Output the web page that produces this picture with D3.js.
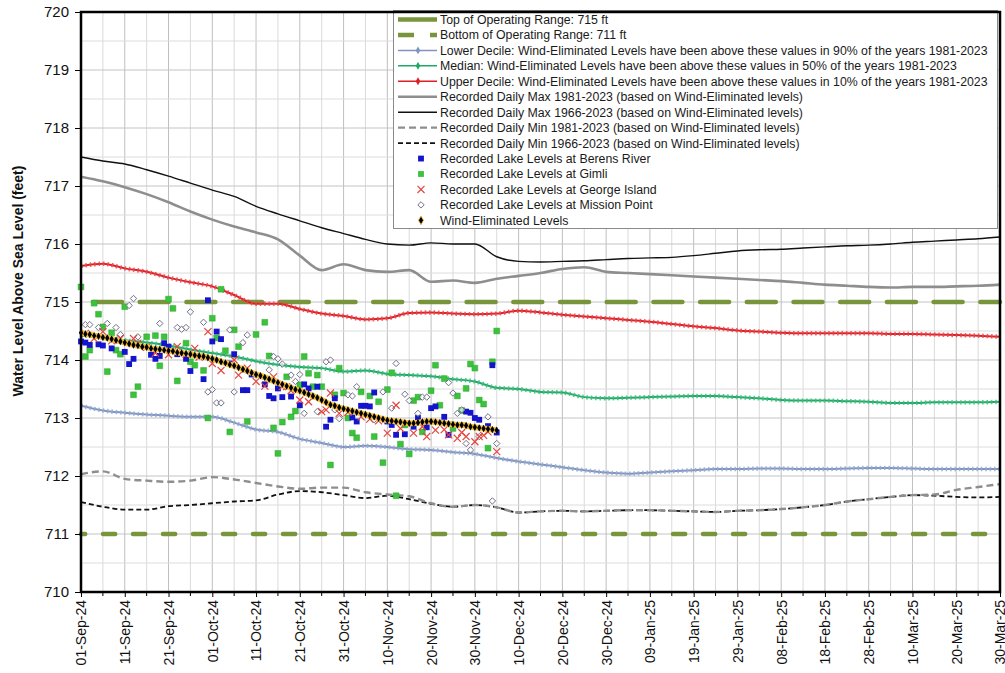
<!DOCTYPE html>
<html>
<head>
<meta charset="utf-8">
<script src="https://cdn.jsdelivr.net/npm/d3@7"></script>
<style>
  body { margin: 0; background: #fff; font-family: Arial, "Liberation Sans", sans-serif; }
</style>
</head>
<body>
<div id="chart"></div>
<script>
// days counted from 01-Sep-24
var statDays = d3.range(0, 211, 5);
var windDays = d3.range(0, 96);

var xTickLabels = ["01-Sep-24","11-Sep-24","21-Sep-24","01-Oct-24","11-Oct-24","21-Oct-24","31-Oct-24",
  "10-Nov-24","20-Nov-24","30-Nov-24","10-Dec-24","20-Dec-24","30-Dec-24","09-Jan-25","19-Jan-25",
  "29-Jan-25","08-Feb-25","18-Feb-25","28-Feb-25","10-Mar-25","20-Mar-25","30-Mar-25"];
var yTicks = [710, 711, 712, 713, 714, 715, 716, 717, 718, 719, 720];

var maxAll = [717.50,717.43,717.38,717.28,717.17,717.05,716.93,716.82,716.65,716.52,716.40,716.28,716.18,
  716.08,716.00,715.98,716.02,716.00,716.00,715.78,715.70,715.69,715.70,715.71,715.73,715.75,715.76,
  715.77,715.80,715.84,715.88,715.90,715.91,715.93,715.95,715.97,715.98,716.00,716.03,716.05,716.07,716.09,716.12];
var max81 = [717.16,717.08,716.98,716.86,716.72,716.56,716.42,716.30,716.20,716.08,715.80,715.55,715.65,
  715.55,715.52,715.55,715.35,715.37,715.33,715.40,715.45,715.50,715.57,715.60,715.52,715.50,715.48,
  715.46,715.44,715.42,715.40,715.38,715.36,715.33,715.30,715.28,715.26,715.25,715.26,715.26,715.27,715.28,715.30];
var upperDecile = [715.62,715.66,715.58,715.52,715.42,715.34,715.27,715.12,714.97,714.97,714.88,714.80,714.76,
  714.70,714.72,714.81,714.82,714.80,714.79,714.80,714.85,714.82,714.78,714.75,714.72,714.69,714.66,
  714.62,714.58,714.55,714.51,714.49,714.47,714.46,714.46,714.46,714.46,714.45,714.45,714.44,714.43,714.42,714.40];
var medianLvl = [714.42,714.40,714.34,714.30,714.25,714.18,714.12,714.06,713.98,713.92,713.88,713.86,713.80,
  713.82,713.76,713.74,713.72,713.67,713.63,713.52,713.50,713.45,713.44,713.36,713.34,713.35,713.36,
  713.37,713.38,713.38,713.36,713.34,713.31,713.30,713.30,713.29,713.28,713.26,713.26,713.27,713.27,713.27,713.28];
var lowerDecile = [713.21,713.13,713.09,713.06,713.04,713.02,713.02,712.92,712.80,712.76,712.64,712.57,712.50,
  712.52,712.50,712.46,712.45,712.41,712.38,712.31,712.25,712.20,712.15,712.10,712.06,712.04,712.06,
  712.08,712.10,712.12,712.12,712.13,712.13,712.12,712.12,712.13,712.14,712.14,712.13,712.12,712.12,712.12,712.12];
var min81 = [712.03,712.08,711.95,711.92,711.90,711.92,711.98,711.94,711.88,711.82,711.78,711.80,711.80,
  711.72,711.68,711.65,711.53,711.47,711.50,711.46,711.37,711.39,711.40,711.39,711.40,711.41,711.41,
  711.40,711.39,711.38,711.40,711.41,711.43,711.46,711.50,711.56,711.60,711.64,711.67,711.68,711.76,711.81,711.86];
var minAll = [711.55,711.47,711.42,711.42,711.48,711.50,711.53,711.56,711.58,711.68,711.74,711.72,711.67,
  711.62,711.66,711.60,711.52,711.47,711.50,711.46,711.37,711.39,711.40,711.39,711.40,711.41,711.41,
  711.40,711.39,711.38,711.40,711.41,711.43,711.46,711.50,711.56,711.60,711.64,711.67,711.66,711.64,711.63,711.64];

var windEliminated = [714.47,714.45,714.44,714.42,714.41,714.39,714.38,714.36,714.34,714.32,714.30,714.28,
  714.26,714.25,714.23,714.22,714.20,714.19,714.18,714.17,714.16,714.15,714.13,714.12,714.11,714.10,714.08,
  714.07,714.06,714.04,714.02,714.00,713.97,713.95,713.92,713.90,713.87,713.84,713.81,713.78,713.75,713.73,
  713.70,713.67,713.64,713.61,713.58,713.55,713.52,713.49,713.47,713.44,713.41,713.38,713.35,713.31,713.27,
  713.23,713.21,713.18,713.16,713.14,713.12,713.10,713.08,713.06,713.04,713.02,713.00,712.98,712.96,712.95,
  712.94,712.93,712.92,712.91,712.91,712.92,712.93,712.94,712.94,712.93,712.92,712.91,712.90,712.89,712.88,
  712.88,712.87,712.85,712.84,712.83,712.82,712.81,712.80,712.79];

// [day, level]
var berensRiver = [[0,714.32],[1,714.30],[2,714.26],[4,714.27],[5,714.25],[7,714.20],[10,714.14],[11,713.93],
  [12,714.02],[16,714.09],[17,714.02],[18,714.07],[19,714.29],[20,714.23],[22,714.10],[24,714.02],[25,713.81],
  [28,713.67],[29,715.03],[30,714.32],[31,714.49],[32,714.36],[34,713.94],[35,714.10],[37,713.48],[38,713.48],
  [39,713.75],[42,713.58],[43,713.38],[44,713.34],[45,713.51],[46,713.36],[48,713.37],[50,713.22],[51,713.58],
  [52,713.51],[54,713.54],[56,712.85],[57,712.97],[58,713.34],[62,713.01],[63,712.94],[64,713.21],[65,713.21],
  [66,713.20],[67,713.44],[70,712.94],[71,712.88],[72,712.71],[74,712.72],[76,712.85],[77,713.00],[79,712.84],
  [80,713.17],[81,713.20],[83,713.02],[84,712.71],[88,713.11],[89,713.09],[90,713.00],[91,712.97],[93,712.86],
  [94,713.91],[95,712.75]];
var gimli = [[0,715.26],[1,714.06],[2,714.17],[3,714.98],[4,714.79],[5,714.57],[6,713.80],[7,714.47],[8,714.17],
  [9,714.10],[10,714.92],[12,713.40],[13,713.54],[15,714.40],[17,714.42],[18,713.90],[19,714.40],[20,715.05],
  [21,714.89],[22,713.64],[24,714.29],[25,713.97],[26,713.91],[28,713.82],[29,713.00],[30,714.72],[31,714.38],
  [32,715.22],[33,714.16],[34,712.76],[35,714.52],[36,714.23],[38,712.94],[40,714.44],[42,714.65],[43,714.07],
  [44,712.83],[45,712.39],[46,712.93],[47,713.71],[48,713.02],[49,713.12],[50,713.57],[51,714.06],[52,713.77],
  [53,713.54],[54,713.74],[55,713.54],[57,712.19],[58,713.40],[59,713.86],[60,713.43],[61,713.00],[62,712.74],
  [63,712.66],[64,713.45],[66,713.38],[67,712.68],[68,713.28],[69,712.23],[70,713.49],[71,713.78],[72,711.66],
  [73,712.55],[74,712.88],[75,712.38],[76,713.30],[77,713.36],[78,712.76],[80,713.47],[81,713.91],[82,713.22],
  [83,713.68],[85,712.82],[86,713.38],[87,713.13],[88,713.51],[89,713.93],[90,713.86],[91,713.31],[92,713.24],
  [93,712.48],[94,713.97],[95,714.50]];
var georgeIsland = [[1,714.46],[3,714.37],[5,714.49],[7,714.33],[9,714.37],[12,714.37],[13,714.29],[15,714.22],
  [17,714.12],[20,714.09],[22,714.23],[24,714.10],[26,714.20],[27,714.05],[29,714.49],[30,713.94],[32,713.82],
  [35,714.00],[36,713.74],[38,713.86],[40,713.63],[42,713.55],[44,713.71],[46,713.54],[47,713.54],[48,713.47],
  [50,713.31],[52,713.28],[55,713.11],[56,713.14],[57,713.43],[59,713.08],[61,713.10],[64,713.02],[66,712.98],
  [68,712.95],[70,712.74],[72,713.22],[73,712.82],[76,712.74],[78,712.85],[79,712.68],[81,712.79],[83,712.80],
  [84,712.71],[86,712.65],[87,712.75],[88,712.68],[90,712.59],[91,712.68],[92,712.70],[93,712.76],[95,712.42]];
var missionPoint = [[1,714.61],[2,714.61],[4,714.56],[6,714.63],[8,714.56],[9,714.44],[11,714.94],[12,715.06],
  [13,714.40],[18,714.63],[22,714.56],[23,714.53],[24,714.56],[25,714.83],[28,714.65],[29,713.45],[30,713.49],
  [31,713.26],[32,713.26],[34,714.52],[35,713.45],[37,714.30],[38,714.43],[43,713.83],[44,714.06],[45,714.02],
  [46,713.93],[48,713.74],[49,713.63],[50,713.75],[51,713.08],[54,713.11],[56,713.97],[57,714.00],[58,713.14],
  [59,712.99],[61,713.40],[62,713.38],[63,713.54],[67,712.97],[69,713.45],[71,713.17],[72,713.94],[74,713.41],
  [75,713.30],[77,713.08],[78,713.36],[79,713.36],[84,713.61],[85,713.43],[86,713.08],[87,713.14],[88,712.56],
  [89,712.45],[91,712.68],[93,713.02],[94,711.57],[95,712.56]];

var width = 1005, height = 673;
var plot = {left: 81, right: 1000, top: 12, bottom: 592};

var svg = d3.select("#chart").append("svg")
  .attr("width", width).attr("height", height);

svg.append("rect").attr("width", width).attr("height", height).attr("fill", "#fff");

var x = d3.scaleLinear().domain([0, 210]).range([plot.left, plot.right]);
var y = d3.scaleLinear().domain([710, 720]).range([plot.bottom, plot.top]);

// grid
var grid = svg.append("g");
d3.range(0, 211, 5).forEach(function (d) {
  grid.append("line")
    .attr("x1", x(d)).attr("x2", x(d)).attr("y1", plot.top).attr("y2", plot.bottom)
    .attr("stroke", d % 10 === 0 ? "#bfbfbf" : "#dadada").attr("stroke-width", 1);
});
d3.range(710, 720.01, 0.5).forEach(function (v) {
  grid.append("line")
    .attr("x1", plot.left).attr("x2", plot.right).attr("y1", y(v)).attr("y2", y(v))
    .attr("stroke", v % 1 === 0 ? "#c4c4c4" : "#dcdcdc").attr("stroke-width", 1);
});

// operating range
var olive = "#78953b";
svg.append("line").attr("x1", x(0)).attr("x2", x(210)).attr("y1", y(715)).attr("y2", y(715))
  .attr("stroke", olive).attr("stroke-width", 4.5).attr("stroke-linecap", "round")
  .attr("stroke-dasharray", "29,17.7").attr("stroke-dashoffset", -12);
svg.append("line").attr("x1", x(0)).attr("x2", x(210)).attr("y1", y(711)).attr("y2", y(711))
  .attr("stroke", olive).attr("stroke-width", 4.5).attr("stroke-linecap", "round")
  .attr("stroke-dasharray", "12.2,17.8").attr("stroke-dashoffset", 8);

var line = d3.line()
  .x(function (d, i) { return x(statDays[i]); })
  .y(function (d) { return y(d); })
  .curve(d3.curveMonotoneX);

function plain(values, color, w, dash) {
  var p = svg.append("path").datum(values).attr("d", line)
    .attr("fill", "none").attr("stroke", color).attr("stroke-width", w);
  if (dash) p.attr("stroke-dasharray", dash);
}

function beaded(values, color, light) {
  svg.append("path").datum(values).attr("d", line)
    .attr("fill", "none").attr("stroke", color).attr("stroke-width", 2);
  svg.append("path").datum(values).attr("d", line)
    .attr("fill", "none").attr("stroke", light).attr("stroke-width", 4.4)
    .attr("stroke-dasharray", "1.6,2.8").attr("stroke-opacity", 0.85);
}

plain(minAll, "#111", 1.8, "5,3");
plain(min81, "#8e8e8e", 2.4, "7,4");
plain(max81, "#8e8e8e", 2.6);
plain(maxAll, "#111", 1.4);
beaded(lowerDecile, "#7f95c0", "#97a9cf");
beaded(medianLvl, "#1fa866", "#3ebd7e");
beaded(upperDecile, "#df1f26", "#e8464b");

// station points
var sq = d3.symbol().type(d3.symbolSquare).size(34)();
var diamondOpen = d3.symbol().type(d3.symbolDiamond2).size(26)();
var cross = d3.symbol().type(d3.symbolX).size(34)();

svg.append("g").selectAll("path").data(gimli).join("path")
  .attr("d", sq).attr("transform", function (d) { return "translate(" + x(d[0]) + "," + y(d[1]) + ")"; })
  .attr("fill", "#3cc23c").attr("stroke", "#2fa82f").attr("stroke-width", 0.5);
svg.append("g").selectAll("path").data(berensRiver).join("path")
  .attr("d", sq).attr("transform", function (d) { return "translate(" + x(d[0]) + "," + y(d[1]) + ")"; })
  .attr("fill", "#1414cc");
svg.append("g").selectAll("path").data(missionPoint).join("path")
  .attr("d", diamondOpen).attr("transform", function (d) { return "translate(" + x(d[0]) + "," + y(d[1]) + ")"; })
  .attr("fill", "#fff").attr("fill-opacity", 0.6).attr("stroke", "#707088").attr("stroke-width", 1);
svg.append("g").selectAll("path").data(georgeIsland).join("path")
  .attr("d", cross).attr("transform", function (d) { return "translate(" + x(d[0]) + "," + y(d[1]) + ")"; })
  .attr("fill", "none").attr("stroke", "#e5453f").attr("stroke-width", 1.2);

// wind-eliminated
var windLine = d3.line()
  .x(function (d, i) { return x(windDays[i]); })
  .y(function (d) { return y(d); });
svg.append("path").datum(windEliminated).attr("d", windLine)
  .attr("fill", "none").attr("stroke", "#f6c03a").attr("stroke-width", 6).attr("stroke-linejoin", "round");
var blackDiamond = d3.symbol().type(d3.symbolDiamond).size(16)();
svg.append("g").selectAll("path").data(windEliminated).join("path")
  .attr("d", blackDiamond)
  .attr("transform", function (d, i) { return "translate(" + x(windDays[i]) + "," + y(d) + ")"; })
  .attr("fill", "#000");

// legend
var leg = svg.append("g");
leg.append("rect").attr("x", 393.5).attr("y", 10.5).attr("width", 604).attr("height", 218)
  .attr("fill", "#fff").attr("stroke", "#8a8a8a").attr("stroke-width", 1);

var legendItems = [
  {label: "Top of Operating Range: 715 ft", kind: "line", color: olive, w: 4.5, dash: null},
  {label: "Bottom of Operating Range: 711 ft", kind: "line", color: olive, w: 4.5, dash: "16,16"},
  {label: "Lower Decile: Wind-Eliminated Levels have been above these values in 90% of the years 1981-2023", kind: "marker", color: "#7f95c0"},
  {label: "Median: Wind-Eliminated Levels have been above these values in 50% of the years 1981-2023", kind: "marker", color: "#1fa866"},
  {label: "Upper Decile: Wind-Eliminated Levels have been above these values in 10% of the years 1981-2023", kind: "marker", color: "#df1f26"},
  {label: "Recorded Daily Max 1981-2023 (based on Wind-Eliminated levels)", kind: "line", color: "#8e8e8e", w: 2.6, dash: null},
  {label: "Recorded Daily Max 1966-2023 (based on Wind-Eliminated levels)", kind: "line", color: "#111", w: 1.4, dash: null},
  {label: "Recorded Daily Min 1981-2023 (based on Wind-Eliminated levels)", kind: "line", color: "#8e8e8e", w: 2.4, dash: "7,4"},
  {label: "Recorded Daily Min 1966-2023 (based on Wind-Eliminated levels)", kind: "line", color: "#111", w: 1.8, dash: "5,3"},
  {label: "Recorded Lake Levels at Berens River", kind: "square", color: "#1414cc"},
  {label: "Recorded Lake Levels at Gimli", kind: "square", color: "#3cc23c"},
  {label: "Recorded Lake Levels at George Island", kind: "x", color: "#e5453f"},
  {label: "Recorded Lake Levels at Mission Point", kind: "diamond", color: "#707088"},
  {label: "Wind-Eliminated Levels", kind: "wind", color: "#000"}
];

legendItems.forEach(function (it, i) {
  var yy = 19.5 + i * 15.45;
  var row = leg.append("g").attr("transform", "translate(0," + yy + ")");
  if (it.kind === "line") {
    var l = row.append("line").attr("x1", 398).attr("x2", 437).attr("y1", 0).attr("y2", 0)
      .attr("stroke", it.color).attr("stroke-width", it.w);
    if (it.dash) l.attr("stroke-dasharray", it.dash);
  } else if (it.kind === "marker") {
    row.append("line").attr("x1", 398).attr("x2", 437).attr("y1", 0).attr("y2", 0)
      .attr("stroke", it.color).attr("stroke-width", 1.5);
    row.append("path").attr("d", d3.symbol().type(d3.symbolDiamond).size(18)())
      .attr("transform", "translate(418,0)").attr("fill", it.color);
  } else if (it.kind === "square") {
    row.append("path").attr("d", sq).attr("transform", "translate(421,0)").attr("fill", it.color);
  } else if (it.kind === "x") {
    row.append("path").attr("d", cross).attr("transform", "translate(421,0)")
      .attr("fill", "none").attr("stroke", it.color).attr("stroke-width", 1.2);
  } else if (it.kind === "diamond") {
    row.append("path").attr("d", diamondOpen).attr("transform", "translate(421,0)")
      .attr("fill", "#fff").attr("stroke", it.color).attr("stroke-width", 1);
  } else {
    row.append("path").attr("d", d3.symbol().type(d3.symbolDiamond).size(22)())
      .attr("transform", "translate(421,0)").attr("fill", "#000").attr("stroke", "#f6c03a").attr("stroke-width", 0.8);
  }
  row.append("text").attr("x", 440).attr("y", 0).attr("dy", "0.36em")
    .attr("font-size", "12.3px").attr("fill", "#1a1a1a").text(it.label);
});

// axes
var xAxis = d3.axisBottom(x)
  .tickValues(xTickLabels.map(function (d, i) { return i * 10; }))
  .tickFormat(function (d, i) { return xTickLabels[i]; })
  .tickSize(5);
var gx = svg.append("g").attr("transform", "translate(0," + plot.bottom + ")").call(xAxis);
gx.select(".domain").remove();
gx.selectAll(".tick line").attr("stroke", "#000");
gx.selectAll(".tick text")
  .attr("transform", "rotate(-90)")
  .attr("x", -8).attr("y", 0).attr("dy", "0.35em")
  .attr("text-anchor", "end")
  .attr("font-size", "14px").attr("font-family", "Arial, 'Liberation Sans', sans-serif").attr("fill", "#111");
// minor x ticks
svg.append("g").selectAll("line").data(d3.range(5, 210, 10)).join("line")
  .attr("x1", function (d) { return x(d); }).attr("x2", function (d) { return x(d); })
  .attr("y1", plot.bottom).attr("y2", plot.bottom + 4).attr("stroke", "#000");

var yAxis = d3.axisLeft(y).tickValues(yTicks).tickFormat(d3.format("d")).tickSize(6).tickPadding(6);
var gy = svg.append("g").attr("transform", "translate(" + plot.left + ",0)").call(yAxis);
gy.select(".domain").remove();
gy.selectAll(".tick line").attr("stroke", "#000");
gy.selectAll(".tick text").attr("font-size", "15px")
  .attr("font-family", "Arial, 'Liberation Sans', sans-serif").attr("fill", "#111");

svg.append("text")
  .attr("transform", "translate(23," + 281 + ") rotate(-90)")
  .attr("text-anchor", "middle")
  .attr("font-size", "14px").attr("font-weight", "bold").attr("fill", "#111")
  .text("Water Level Above Sea Level (feet)");

// frame
svg.append("rect").attr("x", plot.left).attr("y", plot.top)
  .attr("width", plot.right - plot.left).attr("height", plot.bottom - plot.top)
  .attr("fill", "none").attr("stroke", "#000").attr("stroke-width", 2.5);
</script>
</body>
</html>
